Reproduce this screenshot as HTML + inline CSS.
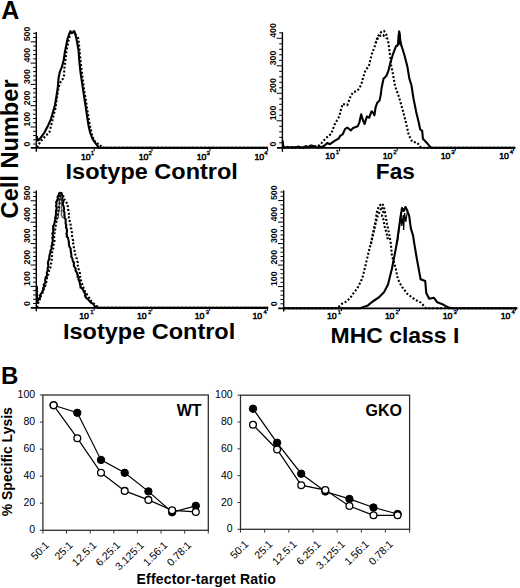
<!DOCTYPE html>
<html><head><meta charset="utf-8"><style>
html,body{margin:0;padding:0;background:#fff;width:520px;height:588px;overflow:hidden}
svg{position:absolute;left:0;top:0}
text{font-family:"Liberation Sans", sans-serif}
.ax{stroke:#000;stroke-width:1.4;fill:none}
.axx{stroke:#000;stroke-width:1.7;fill:none}
.tk{stroke:#000;stroke-width:1;fill:none}
.yl{font-size:8.8px;font-weight:bold;fill:#000}
.xl{font-size:8.8px;fill:#000;stroke:#000;stroke-width:0.5;letter-spacing:-0.2px}
.sup{font-size:6px;fill:#000;stroke:#000;stroke-width:0.35}
.ttl{font-size:22px;font-weight:bold;fill:#000}
.sol{stroke:#000;stroke-width:2.1;fill:none;stroke-linejoin:round}
.dot{stroke:#000;stroke-width:2.1;fill:none;stroke-dasharray:2 1.9}
.sol2{stroke:#000;stroke-width:1.2;fill:none}
.sol3{stroke:#555;stroke-width:1.3;fill:none}
.box{stroke:#2e2e2e;stroke-width:1.3;fill:none}
.btk{stroke:#333;stroke-width:1;fill:none}
.bl{font-size:10.5px;fill:#000}
.bx{font-size:10.6px;fill:#000}
.ln{stroke:#000;stroke-width:1.2;fill:none}
.fc{fill:#000;stroke:#000;stroke-width:1}
.oc{fill:#fff;stroke:#000;stroke-width:1.3}
.wt{font-size:16px;font-weight:bold;fill:#000}
.big{font-size:25px;font-weight:bold;fill:#000}
.lab{font-size:23.6px;font-weight:bold;fill:#000}
.lab2{font-size:14px;font-weight:bold;fill:#000}
</style></head><body>
<svg width="520" height="588" viewBox="0 0 520 588">
<text x="1.3" y="18.9" class="big">A</text>
<text x="0.9" y="383.8" class="big" style="font-size:24px">B</text>
<text x="18.4" y="218.4" transform="rotate(-90 18.4 218.4)" class="lab">Cell Number</text>
<text x="12.3" y="516.3" transform="rotate(-90 12.3 516.3)" class="lab2">% Specific Lysis</text>
<text x="136.5" y="584.3" class="lab2" style="letter-spacing:0.2px">Effector-target Ratio</text>
<line x1="36.3" y1="32.0" x2="36.3" y2="151.8" class="ax"/>
<line x1="30.8" y1="147.8" x2="267.8" y2="147.8" class="axx"/>
<line x1="33.1" y1="144.04" x2="36.3" y2="144.04" class="tk"/>
<line x1="33.1" y1="139.78" x2="36.3" y2="139.78" class="tk"/>
<line x1="33.1" y1="135.52" x2="36.3" y2="135.52" class="tk"/>
<line x1="33.1" y1="131.26" x2="36.3" y2="131.26" class="tk"/>
<line x1="30.6" y1="127.00" x2="36.3" y2="127.00" class="tk"/>
<line x1="33.1" y1="122.74" x2="36.3" y2="122.74" class="tk"/>
<line x1="33.1" y1="118.48" x2="36.3" y2="118.48" class="tk"/>
<line x1="33.1" y1="114.22" x2="36.3" y2="114.22" class="tk"/>
<line x1="33.1" y1="109.96" x2="36.3" y2="109.96" class="tk"/>
<line x1="30.6" y1="105.70" x2="36.3" y2="105.70" class="tk"/>
<line x1="33.1" y1="101.44" x2="36.3" y2="101.44" class="tk"/>
<line x1="33.1" y1="97.18" x2="36.3" y2="97.18" class="tk"/>
<line x1="33.1" y1="92.92" x2="36.3" y2="92.92" class="tk"/>
<line x1="33.1" y1="88.66" x2="36.3" y2="88.66" class="tk"/>
<line x1="30.6" y1="84.40" x2="36.3" y2="84.40" class="tk"/>
<line x1="33.1" y1="80.14" x2="36.3" y2="80.14" class="tk"/>
<line x1="33.1" y1="75.88" x2="36.3" y2="75.88" class="tk"/>
<line x1="33.1" y1="71.62" x2="36.3" y2="71.62" class="tk"/>
<line x1="33.1" y1="67.36" x2="36.3" y2="67.36" class="tk"/>
<line x1="30.6" y1="63.10" x2="36.3" y2="63.10" class="tk"/>
<line x1="33.1" y1="58.84" x2="36.3" y2="58.84" class="tk"/>
<line x1="33.1" y1="54.58" x2="36.3" y2="54.58" class="tk"/>
<line x1="33.1" y1="50.32" x2="36.3" y2="50.32" class="tk"/>
<line x1="33.1" y1="46.06" x2="36.3" y2="46.06" class="tk"/>
<line x1="30.6" y1="41.80" x2="36.3" y2="41.80" class="tk"/>
<line x1="33.1" y1="37.54" x2="36.3" y2="37.54" class="tk"/>
<line x1="33.1" y1="33.28" x2="36.3" y2="33.28" class="tk"/>
<text x="30.1" y="146.5" transform="rotate(-90 30.1 146.5)" class="yl">0</text>
<text x="30.1" y="126.5" transform="rotate(-90 30.1 126.5)" class="yl">100</text>
<text x="30.1" y="105.2" transform="rotate(-90 30.1 105.2)" class="yl">200</text>
<text x="30.1" y="83.9" transform="rotate(-90 30.1 83.9)" class="yl">300</text>
<text x="30.1" y="62.6" transform="rotate(-90 30.1 62.6)" class="yl">400</text>
<text x="30.1" y="41.3" transform="rotate(-90 30.1 41.3)" class="yl">500</text>
<line x1="94.2" y1="148.3" x2="94.2" y2="151.3" class="tk"/>
<text x="90.4" y="159.7" class="xl" text-anchor="end">10</text>
<text x="90.8" y="154.8" class="sup">1</text>
<line x1="152.0" y1="148.3" x2="152.0" y2="151.3" class="tk"/>
<text x="148.2" y="159.7" class="xl" text-anchor="end">10</text>
<text x="148.6" y="154.8" class="sup">2</text>
<line x1="209.9" y1="148.3" x2="209.9" y2="151.3" class="tk"/>
<text x="206.1" y="159.7" class="xl" text-anchor="end">10</text>
<text x="206.5" y="154.8" class="sup">3</text>
<line x1="267.7" y1="148.3" x2="267.7" y2="151.3" class="tk"/>
<text x="263.9" y="159.7" class="xl" text-anchor="end">10</text>
<text x="264.3" y="154.8" class="sup">4</text>
<text transform="translate(65.6 179.1) scale(1.068 1)" class="ttl">Isotype Control</text>
<line x1="282.4" y1="32.3" x2="282.4" y2="151.8" class="ax"/>
<line x1="276.9" y1="147.8" x2="515.5" y2="147.8" class="axx"/>
<line x1="279.2" y1="142.80" x2="282.4" y2="142.80" class="tk"/>
<line x1="279.2" y1="137.30" x2="282.4" y2="137.30" class="tk"/>
<line x1="279.2" y1="131.80" x2="282.4" y2="131.80" class="tk"/>
<line x1="279.2" y1="126.30" x2="282.4" y2="126.30" class="tk"/>
<line x1="276.7" y1="120.80" x2="282.4" y2="120.80" class="tk"/>
<line x1="279.2" y1="115.30" x2="282.4" y2="115.30" class="tk"/>
<line x1="279.2" y1="109.80" x2="282.4" y2="109.80" class="tk"/>
<line x1="279.2" y1="104.30" x2="282.4" y2="104.30" class="tk"/>
<line x1="279.2" y1="98.80" x2="282.4" y2="98.80" class="tk"/>
<line x1="276.7" y1="93.30" x2="282.4" y2="93.30" class="tk"/>
<line x1="279.2" y1="87.80" x2="282.4" y2="87.80" class="tk"/>
<line x1="279.2" y1="82.30" x2="282.4" y2="82.30" class="tk"/>
<line x1="279.2" y1="76.80" x2="282.4" y2="76.80" class="tk"/>
<line x1="279.2" y1="71.30" x2="282.4" y2="71.30" class="tk"/>
<line x1="276.7" y1="65.80" x2="282.4" y2="65.80" class="tk"/>
<line x1="279.2" y1="60.30" x2="282.4" y2="60.30" class="tk"/>
<line x1="279.2" y1="54.80" x2="282.4" y2="54.80" class="tk"/>
<line x1="279.2" y1="49.30" x2="282.4" y2="49.30" class="tk"/>
<line x1="279.2" y1="43.80" x2="282.4" y2="43.80" class="tk"/>
<line x1="276.7" y1="38.30" x2="282.4" y2="38.30" class="tk"/>
<line x1="279.2" y1="32.80" x2="282.4" y2="32.80" class="tk"/>
<text x="276.2" y="146.5" transform="rotate(-90 276.2 146.5)" class="yl">0</text>
<text x="276.2" y="120.3" transform="rotate(-90 276.2 120.3)" class="yl">100</text>
<text x="276.2" y="92.8" transform="rotate(-90 276.2 92.8)" class="yl">200</text>
<text x="276.2" y="65.3" transform="rotate(-90 276.2 65.3)" class="yl">300</text>
<text x="276.2" y="37.8" transform="rotate(-90 276.2 37.8)" class="yl">400</text>
<line x1="339.6" y1="148.3" x2="339.6" y2="151.3" class="tk"/>
<text x="334.6" y="158.9" class="xl" text-anchor="end">10</text>
<text x="335.7" y="154.0" class="sup">1</text>
<line x1="397.1" y1="148.3" x2="397.1" y2="151.3" class="tk"/>
<text x="392.1" y="158.9" class="xl" text-anchor="end">10</text>
<text x="393.2" y="154.0" class="sup">2</text>
<line x1="455.2" y1="148.3" x2="455.2" y2="151.3" class="tk"/>
<text x="450.2" y="158.9" class="xl" text-anchor="end">10</text>
<text x="451.3" y="154.0" class="sup">3</text>
<line x1="513.7" y1="148.3" x2="513.7" y2="151.3" class="tk"/>
<text x="508.7" y="158.9" class="xl" text-anchor="end">10</text>
<text x="509.8" y="154.0" class="sup">4</text>
<text transform="translate(375.8 179.4) scale(1.030 1)" class="ttl">Fas</text>
<line x1="36.3" y1="190.4" x2="36.3" y2="311.3" class="ax"/>
<line x1="30.8" y1="307.9" x2="268.3" y2="307.9" class="axx"/>
<line x1="33.1" y1="303.52" x2="36.3" y2="303.52" class="tk"/>
<line x1="33.1" y1="299.24" x2="36.3" y2="299.24" class="tk"/>
<line x1="33.1" y1="294.96" x2="36.3" y2="294.96" class="tk"/>
<line x1="33.1" y1="290.68" x2="36.3" y2="290.68" class="tk"/>
<line x1="30.6" y1="286.40" x2="36.3" y2="286.40" class="tk"/>
<line x1="33.1" y1="282.12" x2="36.3" y2="282.12" class="tk"/>
<line x1="33.1" y1="277.84" x2="36.3" y2="277.84" class="tk"/>
<line x1="33.1" y1="273.56" x2="36.3" y2="273.56" class="tk"/>
<line x1="33.1" y1="269.28" x2="36.3" y2="269.28" class="tk"/>
<line x1="30.6" y1="265.00" x2="36.3" y2="265.00" class="tk"/>
<line x1="33.1" y1="260.72" x2="36.3" y2="260.72" class="tk"/>
<line x1="33.1" y1="256.44" x2="36.3" y2="256.44" class="tk"/>
<line x1="33.1" y1="252.16" x2="36.3" y2="252.16" class="tk"/>
<line x1="33.1" y1="247.88" x2="36.3" y2="247.88" class="tk"/>
<line x1="30.6" y1="243.60" x2="36.3" y2="243.60" class="tk"/>
<line x1="33.1" y1="239.32" x2="36.3" y2="239.32" class="tk"/>
<line x1="33.1" y1="235.04" x2="36.3" y2="235.04" class="tk"/>
<line x1="33.1" y1="230.76" x2="36.3" y2="230.76" class="tk"/>
<line x1="33.1" y1="226.48" x2="36.3" y2="226.48" class="tk"/>
<line x1="30.6" y1="222.20" x2="36.3" y2="222.20" class="tk"/>
<line x1="33.1" y1="217.92" x2="36.3" y2="217.92" class="tk"/>
<line x1="33.1" y1="213.64" x2="36.3" y2="213.64" class="tk"/>
<line x1="33.1" y1="209.36" x2="36.3" y2="209.36" class="tk"/>
<line x1="33.1" y1="205.08" x2="36.3" y2="205.08" class="tk"/>
<line x1="30.6" y1="200.80" x2="36.3" y2="200.80" class="tk"/>
<line x1="33.1" y1="196.52" x2="36.3" y2="196.52" class="tk"/>
<line x1="33.1" y1="192.24" x2="36.3" y2="192.24" class="tk"/>
<text x="30.1" y="306.0" transform="rotate(-90 30.1 306.0)" class="yl">0</text>
<text x="30.1" y="285.9" transform="rotate(-90 30.1 285.9)" class="yl">100</text>
<text x="30.1" y="264.5" transform="rotate(-90 30.1 264.5)" class="yl">200</text>
<text x="30.1" y="243.1" transform="rotate(-90 30.1 243.1)" class="yl">300</text>
<text x="30.1" y="221.7" transform="rotate(-90 30.1 221.7)" class="yl">400</text>
<text x="30.1" y="200.3" transform="rotate(-90 30.1 200.3)" class="yl">500</text>
<line x1="94.1" y1="307.8" x2="94.1" y2="310.8" class="tk"/>
<text x="88.6" y="318.7" class="xl" text-anchor="end">10</text>
<text x="90.2" y="313.8" class="sup">1</text>
<line x1="151.9" y1="307.8" x2="151.9" y2="310.8" class="tk"/>
<text x="146.4" y="318.7" class="xl" text-anchor="end">10</text>
<text x="148.0" y="313.8" class="sup">2</text>
<line x1="209.7" y1="307.8" x2="209.7" y2="310.8" class="tk"/>
<text x="204.2" y="318.7" class="xl" text-anchor="end">10</text>
<text x="205.8" y="313.8" class="sup">3</text>
<line x1="267.5" y1="307.8" x2="267.5" y2="310.8" class="tk"/>
<text x="262.0" y="318.7" class="xl" text-anchor="end">10</text>
<text x="263.6" y="313.8" class="sup">4</text>
<text transform="translate(63.0 338.8) scale(1.068 1)" class="ttl">Isotype Control</text>
<line x1="283.7" y1="190.4" x2="283.7" y2="311.6" class="ax"/>
<line x1="278.2" y1="308.3" x2="517.5" y2="308.3" class="axx"/>
<line x1="280.5" y1="303.80" x2="283.7" y2="303.80" class="tk"/>
<line x1="280.5" y1="299.50" x2="283.7" y2="299.50" class="tk"/>
<line x1="280.5" y1="295.20" x2="283.7" y2="295.20" class="tk"/>
<line x1="280.5" y1="290.90" x2="283.7" y2="290.90" class="tk"/>
<line x1="278.0" y1="286.60" x2="283.7" y2="286.60" class="tk"/>
<line x1="280.5" y1="282.30" x2="283.7" y2="282.30" class="tk"/>
<line x1="280.5" y1="278.00" x2="283.7" y2="278.00" class="tk"/>
<line x1="280.5" y1="273.70" x2="283.7" y2="273.70" class="tk"/>
<line x1="280.5" y1="269.40" x2="283.7" y2="269.40" class="tk"/>
<line x1="278.0" y1="265.10" x2="283.7" y2="265.10" class="tk"/>
<line x1="280.5" y1="260.80" x2="283.7" y2="260.80" class="tk"/>
<line x1="280.5" y1="256.50" x2="283.7" y2="256.50" class="tk"/>
<line x1="280.5" y1="252.20" x2="283.7" y2="252.20" class="tk"/>
<line x1="280.5" y1="247.90" x2="283.7" y2="247.90" class="tk"/>
<line x1="278.0" y1="243.60" x2="283.7" y2="243.60" class="tk"/>
<line x1="280.5" y1="239.30" x2="283.7" y2="239.30" class="tk"/>
<line x1="280.5" y1="235.00" x2="283.7" y2="235.00" class="tk"/>
<line x1="280.5" y1="230.70" x2="283.7" y2="230.70" class="tk"/>
<line x1="280.5" y1="226.40" x2="283.7" y2="226.40" class="tk"/>
<line x1="278.0" y1="222.10" x2="283.7" y2="222.10" class="tk"/>
<line x1="280.5" y1="217.80" x2="283.7" y2="217.80" class="tk"/>
<line x1="280.5" y1="213.50" x2="283.7" y2="213.50" class="tk"/>
<line x1="280.5" y1="209.20" x2="283.7" y2="209.20" class="tk"/>
<line x1="280.5" y1="204.90" x2="283.7" y2="204.90" class="tk"/>
<line x1="278.0" y1="200.60" x2="283.7" y2="200.60" class="tk"/>
<line x1="280.5" y1="196.30" x2="283.7" y2="196.30" class="tk"/>
<line x1="280.5" y1="192.00" x2="283.7" y2="192.00" class="tk"/>
<text x="277.5" y="306.3" transform="rotate(-90 277.5 306.3)" class="yl">0</text>
<text x="277.5" y="286.1" transform="rotate(-90 277.5 286.1)" class="yl">100</text>
<text x="277.5" y="264.6" transform="rotate(-90 277.5 264.6)" class="yl">200</text>
<text x="277.5" y="243.1" transform="rotate(-90 277.5 243.1)" class="yl">300</text>
<text x="277.5" y="221.6" transform="rotate(-90 277.5 221.6)" class="yl">400</text>
<text x="277.5" y="200.1" transform="rotate(-90 277.5 200.1)" class="yl">500</text>
<line x1="341.6" y1="308.1" x2="341.6" y2="311.1" class="tk"/>
<text x="336.4" y="319.0" class="xl" text-anchor="end">10</text>
<text x="337.7" y="314.1" class="sup">1</text>
<line x1="399.5" y1="308.1" x2="399.5" y2="311.1" class="tk"/>
<text x="394.3" y="319.0" class="xl" text-anchor="end">10</text>
<text x="395.6" y="314.1" class="sup">2</text>
<line x1="457.4" y1="308.1" x2="457.4" y2="311.1" class="tk"/>
<text x="452.2" y="319.0" class="xl" text-anchor="end">10</text>
<text x="453.5" y="314.1" class="sup">3</text>
<line x1="515.3" y1="308.1" x2="515.3" y2="311.1" class="tk"/>
<text x="510.1" y="319.0" class="xl" text-anchor="end">10</text>
<text x="511.4" y="314.1" class="sup">4</text>
<text transform="translate(330.6 343.4) scale(1.043 1)" class="ttl">MHC class I</text>
<polyline points="397.5,242.0 399.5,225.0 400.8,212.0 401.8,226.0 403.3,215.0 403.6,230.0 404.6,213.0 405.8,222.0 407.6,210.0" class="sol2"/>
<polyline points="58.6,218.0 58.3,216.6 58.4,215.3 58.2,214.0 58.8,212.7 58.9,211.3 59.4,210.0 59.1,208.7 59.3,207.3 59.2,206.0 59.3,204.7 59.6,203.3 59.4,202.0 59.3,200.6 60.3,199.4 59.8,198.0 60.8,196.7 60.6,195.0 60.4,196.7 60.8,198.4 61.2,200.0 61.5,201.4 61.6,202.8 61.6,204.3 61.9,205.7 61.1,207.2 61.6,208.6 61.5,210.0 61.2,211.4 61.8,212.7 61.2,214.0 61.4,215.4 62.5,216.6 62.0,218.0" class="sol3"/>
<polyline points="397.4,47.0 398.2,35.0 399.2,30.6 400.3,35.0 401.3,47.0" class="sol2"/>
<polyline points="375.5,43.0 378.0,38.0 380.4,35.6 383.3,35.1 385.8,38.5" class="dot"/>
<polyline points="371.0,244.0 373.0,235.0 375.0,226.0 377.0,218.0 379.5,211.6 382.0,207.0 383.3,212.0 382.0,215.9 383.3,218.8 384.5,226.0 386.5,233.0 388.0,240.0" class="dot"/>
<polyline points="36.8,136.0 37.6,140.5 39.4,139.5 42.0,136.0 44.7,132.1 48.1,125.4 51.0,118.8 52.7,113.0 55.0,105.0 56.7,94.6 57.9,86.5 58.5,78.5 59.6,72.7 61.9,66.9 63.7,60.0 64.9,51.9 67.6,38.5 70.3,31.2 72.3,33.0 74.4,31.2 76.4,38.5 78.5,50.0 79.2,60.0 80.4,71.5 82.1,83.1 83.8,94.6 85.6,106.2 87.3,117.7 88.5,125.4 90.0,132.1 92.5,138.8 95.2,142.9 99.0,147.8 267.5,147.8" class="sol"/>
<polyline points="282.6,140.5 283.5,147.6 284.5,147.4 286.1,147.3 287.7,146.9 289.3,147.3 290.9,147.2 292.5,147.1 294.1,147.5 295.7,147.0 297.3,146.8 298.9,146.5 300.5,147.6 302.1,147.2 303.7,147.5 305.3,146.2 306.9,146.4 308.5,147.6 310.1,145.6 311.7,145.6 313.3,146.2 314.9,146.2 316.5,147.3 318.1,147.7 319.7,146.3 321.3,147.5 322.9,146.5 324.4,145.6 327.3,143.0 330.0,144.2 334.6,140.8 338.7,138.5 340.4,135.6 342.7,134.4 345.0,129.2 347.3,127.5 350.8,130.4 353.1,128.1 357.7,126.3 359.4,122.3 361.2,114.2 362.9,120.0 364.6,124.0 366.9,116.5 369.2,117.7 371.5,111.3 373.3,113.1 374.4,115.4 375.6,107.3 377.3,102.7 379.6,100.4 380.8,94.6 381.5,88.5 383.5,78.8 386.3,76.0 388.3,71.2 390.2,63.5 393.1,53.8 396.0,46.2 398.8,44.2 399.2,31.5 399.8,40.0 401.7,46.2 404.6,55.8 407.5,67.3 409.4,78.8 411.4,85.0 413.5,98.5 416.2,111.9 418.8,122.7 420.2,129.4 422.2,130.8 422.9,138.8 426.9,142.9 431.0,147.8 515.0,147.8" class="sol"/>
<polyline points="36.6,286.0 36.9,287.3 37.1,288.6 36.5,290.0 37.3,291.3 36.7,292.6 36.9,293.9 37.4,295.3 36.8,296.6 37.5,297.9 36.9,299.2 37.5,300.6 36.9,301.9 37.4,302.4 37.6,300.8 38.6,299.6 39.4,298.3 40.4,297.1 40.0,295.4 40.7,294.1 41.7,293.0 42.1,291.6 43.1,290.4 43.1,288.9 43.3,287.5 44.5,286.4 43.7,284.6 44.8,283.5 45.6,282.3 45.1,280.7 45.3,279.3 45.5,278.0 46.1,276.7 47.1,275.5 47.0,274.0 46.8,272.4 47.5,271.0 47.8,269.5 47.7,268.0 48.1,266.5 48.3,265.0 47.9,263.4 48.1,261.9 48.5,260.4 49.4,259.0 49.2,257.5 49.5,256.0 49.6,254.6 50.3,253.3 50.4,251.9 50.5,250.4 51.5,249.2 51.7,247.8 51.4,246.3 52.1,245.0 52.3,243.6 52.3,242.1 52.9,240.8 52.8,239.3 52.3,237.8 53.4,236.5 52.8,235.0 52.4,233.5 53.0,232.1 53.6,230.8 52.9,229.2 53.5,227.9 53.0,226.4 53.8,225.0 54.3,223.6 54.7,222.2 54.8,220.7 55.5,219.4 55.0,217.8 55.8,216.5 55.8,215.0 56.0,213.6 56.0,212.1 55.9,210.7 56.5,209.3 56.7,207.9 56.1,206.4 56.2,205.0 56.6,203.7 56.0,202.2 57.1,201.0 57.3,199.7 58.0,198.4 57.5,197.0 58.7,195.4 59.0,193.5 60.5,192.8 62.0,194.5 62.4,195.8 62.5,197.2 62.2,198.7 62.6,200.0 63.4,201.6 62.9,203.3 63.0,205.0 63.6,206.4 63.9,207.8 64.2,209.2 63.4,210.8 64.4,212.1 64.5,213.5 64.3,215.0 64.7,216.4 64.4,218.0 65.8,219.2 65.6,220.7 65.7,222.2 65.6,223.7 66.4,225.0 66.0,226.5 66.1,227.9 67.0,229.3 66.9,230.7 67.0,232.1 66.4,233.6 67.0,235.0 66.7,236.6 68.1,237.8 68.3,239.2 68.6,240.6 68.9,242.1 68.8,243.6 69.1,245.0 69.3,246.5 70.1,247.8 70.8,249.1 70.6,250.7 71.0,252.1 71.1,253.6 71.5,255.0 71.2,256.4 71.9,257.6 72.5,258.9 72.7,260.2 72.9,261.5 74.1,262.6 73.8,264.0 73.9,265.8 74.7,267.3 75.7,268.7 75.5,270.2 76.0,271.5 76.9,272.7 77.2,274.1 77.9,275.3 77.5,276.8 78.7,278.0 78.4,279.5 79.3,280.7 79.5,282.1 79.9,283.4 80.0,284.8 80.7,286.1 80.4,287.6 81.8,288.1 82.5,289.3 83.4,290.2 83.8,291.6 84.5,292.9 85.5,294.0 84.9,295.8 85.8,297.0 86.5,298.3 87.9,299.0 88.7,300.1 89.7,301.2 90.5,302.4 91.8,303.2 93.1,303.8 93.9,305.1 94.8,306.2 95.9,307.1 97.4,307.1 98.6,307.9 268.0,307.9" class="sol"/>
<polyline points="284.0,308.3 360.0,308.3 367.9,305.4 372.7,301.5 378.5,297.7 384.2,291.9 388.1,284.2 391.9,268.8 393.8,259.2 396.7,243.8 397.7,237.3 399.2,226.5 400.8,215.8 402.0,208.0 403.8,211.0 405.5,207.0 407.0,210.0 409.2,215.8 410.8,228.1 413.1,235.8 414.0,241.9 416.9,259.2 420.6,279.2 425.2,281.0 426.3,293.1 429.2,298.8 433.8,297.7 437.3,302.3 443.1,304.6 448.8,307.6 452.0,308.3 517.0,308.3" class="sol"/>
<polyline points="37.0,147.6 39.0,144.0 41.4,140.5 45.0,136.5 49.5,132.0 52.8,118.6 55.5,108.0 57.2,96.0 58.5,88.0 60.8,81.3 63.1,78.5 64.2,74.4 64.2,69.2 65.5,60.0 66.3,51.9 69.0,38.5 71.0,32.0 73.5,31.5 76.0,35.0 78.4,38.5 79.7,51.9 81.0,65.8 82.6,78.0 84.4,92.3 85.6,98.0 87.0,108.0 88.6,118.0 90.0,126.0 91.8,134.0 93.8,140.0 96.5,143.5 99.3,143.8 102.0,147.8 267.5,147.8" class="dot"/>
<polyline points="283.0,147.8 300.0,147.6 310.0,147.0 318.0,146.0 321.0,143.8 323.8,140.4 327.3,136.9 331.2,133.8 334.6,124.6 339.2,116.5 341.0,109.6 342.7,103.8 347.3,105.0 349.0,100.4 350.8,95.8 353.1,92.3 357.7,90.6 361.3,84.6 363.3,76.9 365.2,71.2 369.0,65.4 371.9,53.8 374.8,46.2 377.7,36.5 381.5,31.7 384.0,31.0 386.3,34.6 388.3,42.3 390.2,55.8 391.2,65.4 393.1,75.0 395.0,86.0 398.8,96.5 402.7,110.0 406.0,122.7 408.7,134.8 412.1,141.5 417.5,142.9 421.0,147.8 515.0,147.8" class="dot"/>
<polyline points="37.0,307.5 37.5,306.1 37.6,304.6 38.1,303.2 39.0,302.0 39.4,300.7 39.8,299.3 40.8,298.3 40.7,296.7 41.1,295.4 42.4,294.4 42.5,293.0 43.0,291.7 43.0,290.3 43.8,289.2 43.8,287.7 44.7,286.6 45.5,285.4 45.5,284.0 46.2,282.7 46.4,281.3 46.4,279.8 46.9,278.5 47.1,277.0 48.0,275.8 48.2,274.4 48.5,273.0 49.1,271.8 49.0,270.4 49.2,269.1 50.1,267.9 50.6,266.7 50.8,265.4 50.8,264.0 51.3,262.8 51.5,261.5 51.7,260.2 51.4,258.8 51.9,257.6 51.9,256.3 52.3,255.0 52.0,253.5 52.2,252.1 52.6,250.7 52.8,249.3 53.4,247.9 53.9,246.5 53.6,245.0 53.7,243.6 54.3,242.2 54.5,240.8 54.6,239.3 54.2,237.8 54.2,236.4 54.6,235.0 54.5,233.5 54.6,232.1 54.7,230.7 55.3,229.3 55.7,227.9 55.8,226.5 55.6,225.0 55.9,223.6 56.3,222.2 56.8,220.8 56.4,219.2 57.3,217.9 57.8,216.5 57.7,215.0 58.2,213.6 58.3,212.2 58.2,210.7 58.1,209.2 58.9,207.9 58.6,206.4 59.0,205.0 59.4,203.7 59.6,202.4 59.1,201.0 59.2,199.7 59.9,198.4 59.5,197.0 60.1,195.7 59.8,194.3 60.5,193.0 62.0,193.5 63.1,195.1 63.5,197.0 64.6,198.1 64.8,199.9 66.0,201.0 66.4,202.5 67.6,203.5 67.9,205.0 67.7,206.5 67.6,207.9 68.0,209.3 68.4,210.7 68.4,212.1 68.9,213.5 68.6,215.0 69.4,216.3 68.7,217.9 69.3,219.3 69.7,220.7 69.6,222.2 70.4,223.6 70.6,225.0 70.4,226.5 70.7,227.9 71.5,229.2 71.6,230.7 71.8,232.1 72.1,233.5 72.0,235.0 72.1,236.4 72.6,237.8 72.7,239.3 73.2,240.7 72.6,242.2 73.3,243.6 73.4,245.0 73.7,246.4 73.9,247.9 73.9,249.4 74.6,250.7 74.4,252.2 75.1,253.6 75.4,255.0 75.7,256.3 76.0,257.6 76.9,258.7 76.8,260.1 77.3,261.4 77.9,262.6 77.7,264.0 77.7,265.4 78.6,266.6 78.6,268.0 78.7,269.4 79.1,270.7 79.5,272.0 79.9,273.3 80.0,274.8 80.2,276.1 80.2,277.6 81.1,278.8 80.9,280.3 81.5,281.6 81.5,283.0 82.3,284.3 82.4,285.9 83.3,287.2 83.8,288.6 84.5,290.0 85.0,291.3 85.5,292.6 86.6,293.6 87.2,294.9 88.0,296.0 88.7,297.1 89.4,298.2 89.9,299.4 90.8,300.4 91.5,301.5 92.6,302.6 93.8,303.7 95.0,304.8 96.0,305.9 97.4,306.5 98.6,307.4 100.0,307.9 268.0,307.9" class="dot"/>
<polyline points="284.0,308.3 335.0,308.3 339.0,306.5 341.9,303.8 346.5,301.5 350.4,297.7 353.5,293.1 357.3,288.5 359.6,283.8 361.5,280.0 363.1,275.4 364.2,270.8 365.6,265.0 368.8,251.5 370.8,243.5 373.1,232.7 375.4,221.9 376.9,211.9 379.0,206.0 382.3,203.5 384.0,207.0 385.4,214.2 386.9,223.5 389.2,234.2 390.8,243.5 391.9,255.4 395.8,268.8 397.7,278.5 401.5,286.2 407.3,293.8 415.0,299.6 420.8,302.5 426.0,308.3 517.0,308.3" class="dot"/>
<rect x="42.9" y="395.0" width="165.4" height="135.3" class="box"/>
<line x1="39.9" y1="530.3" x2="42.9" y2="530.3" class="btk"/>
<text x="35.1" y="533.4" class="bl" text-anchor="end">0</text>
<line x1="39.9" y1="503.2" x2="42.9" y2="503.2" class="btk"/>
<text x="35.1" y="506.3" class="bl" text-anchor="end">20</text>
<line x1="39.9" y1="476.2" x2="42.9" y2="476.2" class="btk"/>
<text x="35.1" y="479.3" class="bl" text-anchor="end">40</text>
<line x1="39.9" y1="449.1" x2="42.9" y2="449.1" class="btk"/>
<text x="35.1" y="452.2" class="bl" text-anchor="end">60</text>
<line x1="39.9" y1="422.1" x2="42.9" y2="422.1" class="btk"/>
<text x="35.1" y="425.2" class="bl" text-anchor="end">80</text>
<line x1="39.9" y1="395.0" x2="42.9" y2="395.0" class="btk"/>
<text x="35.1" y="398.1" class="bl" text-anchor="end">100</text>
<line x1="42.9" y1="530.3" x2="42.9" y2="533.6" class="btk"/>
<line x1="66.5" y1="530.3" x2="66.5" y2="533.6" class="btk"/>
<line x1="90.2" y1="530.3" x2="90.2" y2="533.6" class="btk"/>
<line x1="113.8" y1="530.3" x2="113.8" y2="533.6" class="btk"/>
<line x1="137.4" y1="530.3" x2="137.4" y2="533.6" class="btk"/>
<line x1="161.0" y1="530.3" x2="161.0" y2="533.6" class="btk"/>
<line x1="184.7" y1="530.3" x2="184.7" y2="533.6" class="btk"/>
<line x1="208.3" y1="530.3" x2="208.3" y2="533.6" class="btk"/>
<text x="49.8" y="545.8" transform="rotate(-45 49.8 545.8)" class="bx" text-anchor="end">50:1</text>
<text x="73.5" y="545.8" transform="rotate(-45 73.5 545.8)" class="bx" text-anchor="end">25:1</text>
<text x="97.2" y="545.8" transform="rotate(-45 97.2 545.8)" class="bx" text-anchor="end">12.5:1</text>
<text x="120.9" y="545.8" transform="rotate(-45 120.9 545.8)" class="bx" text-anchor="end">6.25:1</text>
<text x="144.6" y="545.8" transform="rotate(-45 144.6 545.8)" class="bx" text-anchor="end">3.125:1</text>
<text x="168.3" y="545.8" transform="rotate(-45 168.3 545.8)" class="bx" text-anchor="end">1.56:1</text>
<text x="192.0" y="545.8" transform="rotate(-45 192.0 545.8)" class="bx" text-anchor="end">0.78:1</text>
<polyline points="53.6,405.3 77.3,412.8 101.0,459.9 124.7,472.8 148.4,491.4 172.1,512.3 195.8,505.8" class="ln"/>
<polyline points="53.6,405.3 77.3,438.2 101.0,472.8 124.7,490.9 148.4,499.9 172.1,510.3 195.8,511.9" class="ln"/>
<circle cx="53.6" cy="405.3" r="3.7" class="fc"/>
<circle cx="77.3" cy="412.8" r="3.7" class="fc"/>
<circle cx="101.0" cy="459.9" r="3.7" class="fc"/>
<circle cx="124.7" cy="472.8" r="3.7" class="fc"/>
<circle cx="148.4" cy="491.4" r="3.7" class="fc"/>
<circle cx="172.1" cy="512.3" r="3.7" class="fc"/>
<circle cx="195.8" cy="505.8" r="3.7" class="fc"/>
<circle cx="53.6" cy="405.3" r="3.4" class="oc"/>
<circle cx="77.3" cy="438.2" r="3.4" class="oc"/>
<circle cx="101.0" cy="472.8" r="3.4" class="oc"/>
<circle cx="124.7" cy="490.9" r="3.4" class="oc"/>
<circle cx="148.4" cy="499.9" r="3.4" class="oc"/>
<circle cx="172.1" cy="510.3" r="3.4" class="oc"/>
<circle cx="195.8" cy="511.9" r="3.4" class="oc"/>
<text x="201.5" y="416.2" class="wt" text-anchor="end">WT</text>
<rect x="240.5" y="395.2" width="169.1" height="134.1" class="box"/>
<line x1="237.5" y1="529.3" x2="240.5" y2="529.3" class="btk"/>
<text x="232.6" y="532.4" class="bl" text-anchor="end">0</text>
<line x1="237.5" y1="502.5" x2="240.5" y2="502.5" class="btk"/>
<text x="232.6" y="505.6" class="bl" text-anchor="end">20</text>
<line x1="237.5" y1="475.7" x2="240.5" y2="475.7" class="btk"/>
<text x="232.6" y="478.8" class="bl" text-anchor="end">40</text>
<line x1="237.5" y1="448.8" x2="240.5" y2="448.8" class="btk"/>
<text x="232.6" y="451.9" class="bl" text-anchor="end">60</text>
<line x1="237.5" y1="422.0" x2="240.5" y2="422.0" class="btk"/>
<text x="232.6" y="425.1" class="bl" text-anchor="end">80</text>
<line x1="237.5" y1="395.2" x2="240.5" y2="395.2" class="btk"/>
<text x="232.6" y="398.3" class="bl" text-anchor="end">100</text>
<line x1="240.5" y1="529.3" x2="240.5" y2="532.6" class="btk"/>
<line x1="264.7" y1="529.3" x2="264.7" y2="532.6" class="btk"/>
<line x1="288.8" y1="529.3" x2="288.8" y2="532.6" class="btk"/>
<line x1="313.0" y1="529.3" x2="313.0" y2="532.6" class="btk"/>
<line x1="337.1" y1="529.3" x2="337.1" y2="532.6" class="btk"/>
<line x1="361.3" y1="529.3" x2="361.3" y2="532.6" class="btk"/>
<line x1="385.4" y1="529.3" x2="385.4" y2="532.6" class="btk"/>
<line x1="409.6" y1="529.3" x2="409.6" y2="532.6" class="btk"/>
<text x="249.2" y="544.8" transform="rotate(-45 249.2 544.8)" class="bx" text-anchor="end">50:1</text>
<text x="273.3" y="544.8" transform="rotate(-45 273.3 544.8)" class="bx" text-anchor="end">25:1</text>
<text x="297.4" y="544.8" transform="rotate(-45 297.4 544.8)" class="bx" text-anchor="end">12.5:1</text>
<text x="321.5" y="544.8" transform="rotate(-45 321.5 544.8)" class="bx" text-anchor="end">6.25:1</text>
<text x="345.6" y="544.8" transform="rotate(-45 345.6 544.8)" class="bx" text-anchor="end">3.125:1</text>
<text x="369.7" y="544.8" transform="rotate(-45 369.7 544.8)" class="bx" text-anchor="end">1.56:1</text>
<text x="393.8" y="544.8" transform="rotate(-45 393.8 544.8)" class="bx" text-anchor="end">0.78:1</text>
<polyline points="253.0,408.7 277.1,442.8 301.2,473.7 325.3,491.5 349.4,498.9 373.5,507.5 397.6,514.0" class="ln"/>
<polyline points="253.0,424.8 277.1,449.5 301.2,485.2 325.3,490.1 349.4,506.0 373.5,515.3 397.6,515.3" class="ln"/>
<circle cx="253.0" cy="408.7" r="3.7" class="fc"/>
<circle cx="277.1" cy="442.8" r="3.7" class="fc"/>
<circle cx="301.2" cy="473.7" r="3.7" class="fc"/>
<circle cx="325.3" cy="491.5" r="3.7" class="fc"/>
<circle cx="349.4" cy="498.9" r="3.7" class="fc"/>
<circle cx="373.5" cy="507.5" r="3.7" class="fc"/>
<circle cx="397.6" cy="514.0" r="3.7" class="fc"/>
<circle cx="253.0" cy="424.8" r="3.4" class="oc"/>
<circle cx="277.1" cy="449.5" r="3.4" class="oc"/>
<circle cx="301.2" cy="485.2" r="3.4" class="oc"/>
<circle cx="325.3" cy="490.1" r="3.4" class="oc"/>
<circle cx="349.4" cy="506.0" r="3.4" class="oc"/>
<circle cx="373.5" cy="515.3" r="3.4" class="oc"/>
<circle cx="397.6" cy="515.3" r="3.4" class="oc"/>
<text x="402.0" y="416.1" class="wt" text-anchor="end">GKO</text>
</svg>
</body></html>
